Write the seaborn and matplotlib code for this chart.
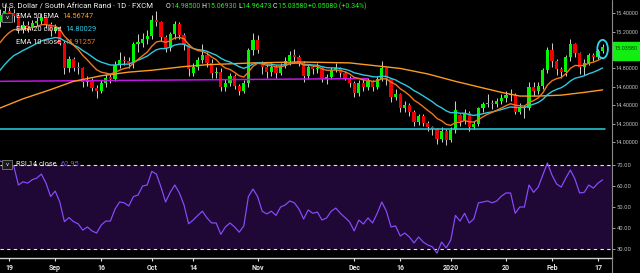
import numpy as np
import pandas as pd
import matplotlib
matplotlib.use("Agg")
import matplotlib.pyplot as plt
import seaborn as sns
from matplotlib.patches import Ellipse, Rectangle
from matplotlib.lines import Line2D

# ---------------- data ----------------
opens = [15.30,15.38,15.42,15.40,15.37,15.22,15.27,15.25,15.29,15.31,
         15.36,15.28,15.21,15.24,15.08,14.80,14.90,14.81,14.80,14.65,
         14.67,14.59,14.56,14.64,14.70,14.69,14.84,14.89,14.88,14.86,
         15.07,15.08,15.12,15.15,15.33,15.30,15.14,15.02,15.17,15.28,
         15.16,15.05,14.75,14.82,14.89,14.95,14.86,14.75,14.76,14.60,
         14.64,14.72,14.61,14.56,14.64,15.00,15.11,14.85,14.82,14.76,
         14.82,14.75,14.83,14.88,14.95,14.92,14.86,14.72,14.82,14.79,
         14.80,14.68,14.71,14.78,14.80,14.75,14.70,14.64,14.53,14.64,
         14.60,14.66,14.60,14.68,14.80,14.68,14.49,14.52,14.37,14.40,
         14.33,14.22,14.28,14.21,14.16,14.14,14.03,14.12,14.02,14.13,
         14.29,14.23,14.32,14.16,14.20,14.37,14.41,14.43,14.41,14.45,
         14.48,14.51,14.51,14.33,14.37,14.37,14.60,14.55,14.61,14.78,
         15.00,14.88,14.79,14.76,14.92,15.07,14.97,14.82,14.86,14.95,
         14.92,14.985]
highs = [15.45,15.50,15.47,15.44,15.40,15.32,15.31,15.33,15.36,15.40,
         15.37,15.30,15.28,15.26,15.10,14.94,14.92,14.87,14.82,14.72,
         14.70,14.62,14.67,14.74,14.74,14.88,14.98,14.93,14.92,15.09,
         15.17,15.18,15.22,15.38,15.42,15.32,15.16,15.20,15.32,15.30,
         15.18,15.07,14.86,14.92,15.06,14.98,14.90,14.82,14.80,14.68,
         14.75,14.74,14.63,14.67,15.02,15.18,15.16,14.88,14.85,14.86,
         14.84,14.86,14.92,14.99,15.01,14.95,14.88,14.85,14.84,14.86,
         14.82,14.74,14.82,14.86,14.82,14.77,14.72,14.66,14.67,14.68,
         14.70,14.67,14.72,14.88,14.82,14.70,14.58,14.53,14.45,14.42,
         14.35,14.31,14.30,14.23,14.18,14.15,14.16,14.14,14.16,14.45,
         14.31,14.36,14.34,14.23,14.38,14.44,14.52,14.46,14.48,14.52,
         14.56,14.58,14.53,14.43,14.40,14.65,14.65,14.65,14.81,15.03,
         15.08,14.90,14.82,14.95,15.12,15.08,14.98,14.90,14.97,14.97,
         15.01,15.0693]
lows = [15.25,15.30,15.35,15.30,15.18,15.18,15.20,15.22,15.26,15.28,
        15.24,15.15,15.18,15.05,14.74,14.76,14.77,14.74,14.60,14.61,
        14.55,14.48,14.53,14.60,14.64,14.66,14.80,14.84,14.80,14.80,
        14.98,15.03,15.07,15.12,15.26,15.10,14.98,14.99,15.12,15.12,
        15.00,14.72,14.72,14.78,14.86,14.82,14.70,14.70,14.55,14.56,
        14.61,14.58,14.51,14.53,14.60,14.95,14.97,14.74,14.70,14.72,
        14.70,14.73,14.80,14.84,14.86,14.83,14.65,14.68,14.74,14.75,
        14.65,14.63,14.68,14.76,14.71,14.67,14.60,14.49,14.50,14.56,
        14.57,14.56,14.58,14.66,14.62,14.44,14.46,14.33,14.33,14.28,
        14.18,14.19,14.17,14.12,14.08,13.98,14.00,13.97,14.00,14.10,
        14.18,14.20,14.12,14.14,14.17,14.33,14.38,14.36,14.38,14.41,
        14.44,14.45,14.30,14.30,14.26,14.35,14.50,14.52,14.58,14.75,
        14.82,14.73,14.70,14.72,14.88,14.92,14.74,14.73,14.84,14.88,
        14.90,14.96473]
closes = [15.38,15.42,15.40,15.37,15.22,15.27,15.25,15.29,15.31,15.36,
          15.28,15.21,15.24,15.08,14.80,14.90,14.81,14.80,14.65,14.67,
          14.59,14.56,14.64,14.70,14.69,14.84,14.89,14.88,14.86,15.07,
          15.08,15.12,15.15,15.33,15.30,15.14,15.02,15.17,15.28,15.16,
          15.05,14.79,14.82,14.89,14.95,14.86,14.75,14.76,14.60,14.64,
          14.72,14.61,14.56,14.64,15.00,15.11,15.00,14.82,14.76,14.82,
          14.75,14.83,14.88,14.95,14.92,14.86,14.72,14.82,14.79,14.80,
          14.68,14.71,14.78,14.80,14.75,14.70,14.64,14.53,14.64,14.60,
          14.66,14.60,14.68,14.80,14.68,14.49,14.52,14.37,14.40,14.33,
          14.22,14.28,14.21,14.16,14.14,14.03,14.12,14.02,14.13,14.35,
          14.23,14.32,14.16,14.20,14.37,14.41,14.43,14.41,14.45,14.48,
          14.51,14.51,14.33,14.37,14.37,14.60,14.55,14.61,14.78,15.00,
          14.88,14.79,14.76,14.92,15.07,14.97,14.82,14.86,14.95,14.92,
          14.985,15.0358]
rsi = [72,71,70,69.5,60.5,62,61.4,63,63.8,65.7,
       61.4,55,57.6,52.4,43,45,43,42,39,40.5,
       38.6,37.6,41.4,43.3,43.3,49,52.4,52,50.5,55,
       55.7,60,60.5,67,65.7,59.5,52.4,57,60.5,56.7,
       51,42,43.8,46,48,44.8,42.4,42.4,37,40.5,
       42.4,40.5,38,41,55,58.6,55,48,46.7,48,
       46,50,51,52.9,52,49,44.3,48.6,47,47.6,
       43.8,44.8,48,49.5,47,45,42.9,38.6,43.8,41.9,
       44.8,42.4,47,52.4,48,40.5,41,36.2,37.6,35.7,
       32.9,35.7,33.3,31.9,31,28,33.3,30.5,34.3,46,
       43.3,47,42.4,44.3,52,52.4,52.9,52,52.9,55.2,
       56.7,56.7,47,50,50,60.5,57,59.5,65.2,71,
       65.2,61,59.5,63.8,67.6,63.3,56.7,57,60.5,59,
       61.4,62.95]

# slow "EMA 50 EMA" line at these bars
ema50_idx = [0, 5, 11, 16, 22, 28, 33, 40, 45, 55, 65, 76, 87, 93, 99, 104, 109, 113, 117, 122, 127, 131]
ema50_val = [14.37, 14.47, 14.57, 14.66, 14.72, 14.76, 14.78, 14.82, 14.84, 14.86, 14.87, 14.86,
             14.80, 14.74, 14.66, 14.60, 14.54, 14.50, 14.50, 14.51, 14.54, 14.567]

tick_idx = [2, 12, 22, 33, 42, 56, 77, 87, 98, 110, 120, 130]
tick_labels = ["19", "Sep", "16", "Oct", "14", "Nov", "Dec", "16", "2020", "20", "Feb", "17"]
price_ticks = [14.0, 14.2, 14.4, 14.6, 14.8, 15.2, 15.4]
rsi_ticks = [30, 40, 50, 60, 70]
ema_periods = [20, 10]
ema_seeds = [14.78, 15.08]          # indicator values at the first visible bar
ema_names = ["EMA 50 EMA", "EMA 20 close", "EMA 10 close"]
ema_last = ["14.56747", "14.80029", "14.91257"]
ema_colors = ["#ff9a1f", "#2ec8e0", "#f0761e"]
trend_idx = [0, 80]
trend_val = [14.66, 14.69]
support_level = 14.14
support_end = 131.5
rsi_last = "62.95"
last_price = "15.03580"
title = "U.S. Dollar / South African Rand · 1D · FXCM"
ohlc_parts = [("O", "14.98500"), ("H", "15.06930"), ("L", "14.96473"), ("C", "15.03580")]
change_text = "+0.05080 (+0.34%)"

# --------------- derived ---------------
n = len(closes)
idx = np.arange(n)
df = pd.DataFrame({"i": idx, "open": opens, "high": highs, "low": lows,
                   "close": closes, "rsi": rsi})
for p, seed, name in zip(ema_periods, ema_seeds, ema_names[1:]):
    a = 2.0 / (p + 1)
    vals = [seed]
    for c in closes[1:]:
        vals.append(a * c + (1 - a) * vals[-1])
    df[name] = vals
slow = pd.DataFrame({"i": ema50_idx, "v": ema50_val})

# --------------- figure ---------------
sns.set_theme(style="dark")
plt.rcParams["font.family"] = ["Roboto", "DejaVu Sans"]
W, H = 640, 273
fig = plt.figure(figsize=(6.4, 2.73), dpi=100, facecolor="black")

def fx(x):
    return x / W

def fy(y):
    return 1 - y / H

XL = (0.0, 612 / 4.6)
ax = fig.add_axes([0, fy(155), fx(612), fy(0) - fy(155)])
axr = fig.add_axes([0, fy(258), fx(612), fy(155) - fy(258)], sharex=ax)
for a_ in (ax, axr):
    a_.set_facecolor("black")
    a_.grid(False)
    for s in a_.spines.values():
        s.set_visible(False)

# candles
up = df["close"] >= df["open"]
body_col = np.where(up, "#00f500", "#f00000")
ax.vlines(df["i"], df["low"], df["high"], color="#d0d0d0", lw=0.7, zorder=2)
body_h = np.maximum((df["close"] - df["open"]).abs(), 0.012)
ax.bar(df["i"], body_h, bottom=np.minimum(df["open"], df["close"]),
       width=0.68, color=body_col, edgecolor="none", zorder=3)

# horizontal support and purple trend line
ax.plot([XL[0], support_end], [support_level, support_level], color="#27d3e0", lw=1.1, zorder=4)
ax.plot(trend_idx, trend_val, color="#c414e8", lw=1.1, zorder=4)

# EMA lines
sns.lineplot(data=slow, x="i", y="v", ax=ax, color=ema_colors[0], lw=1.0, zorder=5, legend=False)
for name, col in zip(ema_names[1:], ema_colors[1:]):
    sns.lineplot(data=df, x="i", y=name, ax=ax, color=col, lw=1.0, zorder=5, legend=False)

# circled last candle
ax.add_patch(Ellipse((n - 1, 15.01), 2.3, 0.2, fill=False, ec="#28d6f2", lw=1.3, zorder=6))

ax.set_xlim(*XL)
ax.set_ylim(13.86, 15.543)
ax.set_xlabel("")
ax.set_ylabel("")
ax.tick_params(axis="x", which="both", bottom=False, labelbottom=False)
ax.yaxis.tick_right()
ax.set_yticks(price_ticks)
ax.set_yticklabels([f"{v:.5f}" for v in price_ticks])
ax.tick_params(axis="y", colors="#bdbdbd", labelsize=4.0, length=1.8, width=0.6, pad=0.8)

# RSI panel
axr.axhspan(30, 70, color="#1f0836", zorder=0, lw=0)
for lvl in (30, 70):
    axr.axhline(lvl, color="#e8e8e8", lw=0.8, ls=(0, (3, 3)), zorder=1)
sns.lineplot(data=df, x="i", y="rsi", ax=axr, color="#8a4cff", lw=0.85, zorder=3)
axr.set_ylim(25.7, 74.8)
axr.set_xlabel("")
axr.set_ylabel("")
axr.yaxis.tick_right()
axr.set_yticks(rsi_ticks)
axr.set_yticklabels([f"{v:.2f}" for v in rsi_ticks])
axr.tick_params(axis="y", colors="#bdbdbd", labelsize=4.2, length=1.8, width=0.6, pad=1.5)
axr.spines["bottom"].set_visible(True)
axr.spines["bottom"].set_color("#cfcfcf")
axr.spines["bottom"].set_linewidth(1.0)
axr.set_xticks(tick_idx)
axr.set_xticklabels(tick_labels)
axr.tick_params(axis="x", colors="#e6e6e6", labelsize=5, length=2, width=0.8, pad=2.5,
                bottom=True, labelbottom=True)
for t in axr.get_xticklabels():
    t.set_fontweight("bold")

# right vertical axis line
fig.add_artist(Line2D([fx(612), fx(612)], [0, 1], color="#8a8a8a", lw=0.8))

# last price tag
fig.add_artist(Rectangle((fx(612.5), fy(60)), fx(640 - 612.5), fy(42) - fy(60),
                         color="#12ee12", zorder=10))
fig.text(fx(626), fy(48), last_price, color="#0a3a0a", fontsize=4.0,
         ha="center", va="center", zorder=11)

# header texts
fig.canvas.draw()
renderer = fig.canvas.get_renderer()

def seq_text(x_px, y_px, parts, size, weight="normal"):
    x = x_px
    for txt, col in parts:
        t = fig.text(fx(x), fy(y_px), txt, color=col, fontsize=size, va="center",
                     ha="left", fontweight=weight, zorder=12)
        bb = t.get_window_extent(renderer=renderer)
        x += bb.width
    return x

seq_text(2, 6, [(title, "#f2f2f2")], 5.6)
parts = []
for k, v in ohlc_parts:
    parts += [(k, "#f2f2f2"), (v + " ", "#19f019")]
parts += [(change_text, "#19f019")]
seq_text(166, 6, parts, 5.0)

def menu_box(x_px, y_px):
    fig.add_artist(Rectangle((fx(x_px), fy(y_px + 9)), fx(10), fy(0) - fy(9),
                             fc="#1a1a1a", ec="#7a7a7a", lw=0.6, zorder=11))
    fig.text(fx(x_px + 5), fy(y_px + 4.2), "v", color="#e0e0e0", fontsize=4.5,
             ha="center", va="center", zorder=12)

menu_box(2, 13)
for k, (name, val, col) in enumerate(zip(ema_names, ema_last, ema_colors)):
    yy = 17 + k * 12.5
    seq_text(16, yy, [(name + "  ", "#f2f2f2"), (val, col)], 5.3)

menu_box(2, 160)
seq_text(16, 164.5, [("RSI 14 close  ", "#f2f2f2"), (rsi_last, "#8a4cff")], 5.3)

fig.savefig("out.png", dpi=100, facecolor="black")
